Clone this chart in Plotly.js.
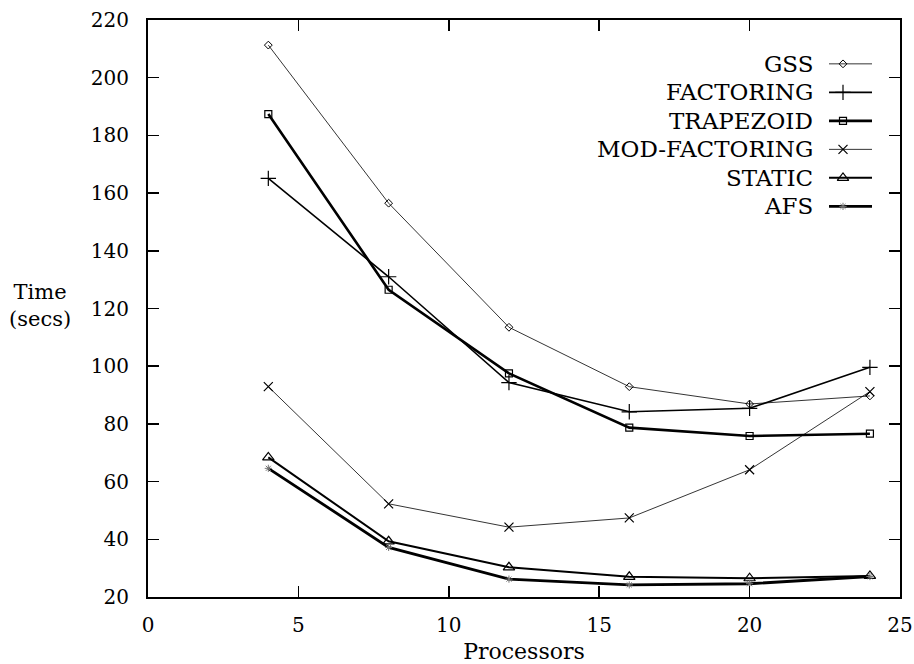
<!DOCTYPE html>
<html><head><meta charset="utf-8">
<script src="https://cdn.plot.ly/plotly-3.0.1.min.js"></script>
<style>html,body{margin:0;padding:0;background:#fff}#c{width:914px;height:664px}</style>
</head><body><div id="c"></div>
<script>
const processors = [4, 8, 12, 16, 20, 24];
const seriesNames = ["GSS", "FACTORING", "TRAPEZOID", "MOD-FACTORING", "STATIC", "AFS"];
const gss = [211.3, 156.5, 113.5, 92.9, 86.9, 89.7];
const factoring = [165.1, 131, 94.3, 84.2, 85.4, 99.6];
const trapezoid = [187.4, 126.5, 97.5, 78.7, 75.8, 76.6];
const modFactoring = [92.9, 52.3, 44.2, 47.4, 64.1, 91.2];
const staticS = [68.4, 39.3, 30.3, 27.0, 26.5, 27.3];
const afs = [64.6, 37.2, 26.2, 24.2, 24.6, 27.1];
const xTicks = [0, 5, 10, 15, 20, 25];
const yTicks = [20, 40, 60, 80, 100, 120, 140, 160, 180, 200, 220];

const values = [gss, factoring, trapezoid, modFactoring, staticS, afs];
const styles = [
  {w: 0.8, sym: 'diamond-open', size: 6, mc: '#000', mw: 1},
  {w: 1.6, sym: 'cross-thin-open', size: 11, mc: '#000', mw: 1.2},
  {w: 2.6, sym: 'square-open', size: 7, mc: '#000', mw: 1.2},
  {w: 0.8, sym: 'x-thin-open', size: 9, mc: '#000', mw: 1.2},
  {w: 2.0, sym: 'triangle-up-open', size: 10, mc: '#000', mw: 1.2},
  {w: 2.8, sym: 'asterisk-open', size: 6, mc: '#777', mw: 1}
];
const F = 'DejaVu Serif, Liberation Serif, serif';
const L = 148, R = 900;
const traces = [];
values.forEach((v, i) => {
  const s = styles[i];
  traces.push({x: processors, y: v, type: 'scatter', mode: 'lines+markers', name: seriesNames[i],
    line: {color: '#000', width: s.w},
    marker: {symbol: s.sym, size: s.size, color: s.mc, line: {color: s.mc, width: s.mw}},
    showlegend: false, hoverinfo: 'skip'});
});
// legend samples on an overlay axis pair in [0,1]
const annotations = [];
const legY0 = 0.924, legDy = 0.0494;
const px = p => (p - L) / (R - L);
seriesNames.forEach((n, i) => {
  const s = styles[i];
  const yy = legY0 - i * legDy;
  traces.push({x: [px(829), px(872)], y: [yy, yy], xaxis: 'x2', yaxis: 'y2', mode: 'lines', type: 'scatter',
    line: {color: '#000', width: s.w}, showlegend: false, hoverinfo: 'skip'});
  traces.push({x: [px(843)], y: [yy], xaxis: 'x2', yaxis: 'y2', mode: 'markers', type: 'scatter',
    marker: {symbol: s.sym, size: s.size, color: s.mc, line: {color: s.mc, width: s.mw}}, showlegend: false, hoverinfo: 'skip'});
  annotations.push({xref: 'x2', yref: 'y2', x: px(815), y: yy, text: n, showarrow: false,
    xanchor: 'right', yanchor: 'middle', font: {family: F, size: 23, color: '#000'}});
});
annotations.push({xref: 'paper', yref: 'paper', x: px(40), y: 0.505, text: 'Time<br>(secs)', showarrow: false,
  xanchor: 'center', yanchor: 'middle', align: 'center', font: {family: F, size: 21, color: '#000'}});

const layout = {
  width: 914, height: 664, margin: {l: L, r: 914 - R, t: 20, b: 67},
  paper_bgcolor: '#fff', plot_bgcolor: '#fff',
  font: {family: F, size: 20, color: '#000'},
  xaxis: {range: [0, 25], tickvals: xTicks, ticks: 'inside', ticklen: 11, tickwidth: 1.5, tickcolor: '#000',
    showline: true, linewidth: 2, linecolor: '#000', mirror: 'ticks', showgrid: false, zeroline: false,
    ticklabelstandoff: 9, ticklabeloverflow: 'allow', tickfont: {family: F, size: 20},
    title: {text: 'Processors', font: {family: F, size: 22}, standoff: 9}},
  yaxis: {range: [20, 220], tickvals: yTicks, ticks: 'inside', ticklen: 11, tickwidth: 1.5, tickcolor: '#000',
    showline: true, linewidth: 2, linecolor: '#000', mirror: 'ticks', showgrid: false, zeroline: false,
    ticklabelstandoff: 13, ticklabeloverflow: 'allow', tickfont: {family: F, size: 20}},
  xaxis2: {range: [0, 1], overlaying: 'x', visible: false, fixedrange: true},
  yaxis2: {range: [0, 1], overlaying: 'y', visible: false, fixedrange: true},
  annotations: annotations,
  showlegend: false
};
Plotly.newPlot('c', traces, layout, {staticPlot: true});
</script></body></html>
